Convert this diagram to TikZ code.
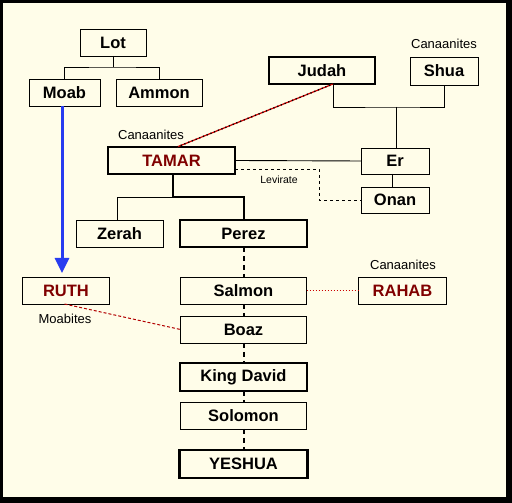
\documentclass[tikz,border=0pt]{standalone}
\usepackage{fontspec}
\setmainfont{Liberation Sans}
\usetikzlibrary{positioning,arrows.meta}
\definecolor{paper}{RGB}{255,253,233}
\definecolor{maroon}{RGB}{128,0,0}
\definecolor{arrowblue}{RGB}{40,60,240}

\begin{document}
\begin{tikzpicture}[x=1pt, y=1pt, node distance=12pt,
    person/.style={rectangle, draw, line width=0.9pt, fill=paper, font=\bfseries\fontsize{16.5}{18}\selectfont, minimum height=27pt, inner sep=0pt, outer sep=0pt},
    heir/.style={person, line width=2.4pt},
    foreign/.style={text=maroon},
    note/.style={font=\fontsize{13}{14}\selectfont, inner sep=0pt},
    tree/.style={line width=0.9pt},
    lineage/.style={line width=2pt, dash pattern=on 5pt off 4pt},
    union/.style={draw=red!80!black, line width=1.2pt, postaction={draw=black, line width=1.4pt, dash pattern=on 1.2pt off 2.8pt}}]

    % frame
    \fill[black] (0,0) rectangle (512,503);
    \fill[paper] (3,6) rectangle (506,500);

    \node[person, minimum width=66pt] (lot) at (113,460.5) {Lot};
    \node[person, minimum width=71pt] (moab) at (64.5,410.5) {Moab};
    \node[person, minimum width=86pt] (ammon) at (159,410.5) {Ammon};
    \node[heir, minimum width=106pt] (judah) at (322,432.5) {Judah};
    \node[person, minimum width=68pt, minimum height=28pt] (shua) at (444,432) {Shua};
    \node[heir, foreign, minimum width=127pt] (tamar) at (171.5,342.5) {TAMAR};
    \node[person, minimum width=68pt, minimum height=26pt] (er) at (395,342) {Er};
    \node[person, minimum width=68pt, minimum height=26pt, below=13pt of er] (onan) {Onan};
    \node[heir, minimum width=127pt] (perez) at (243.5,269.5) {Perez};
    \node[person, minimum width=87pt, left=17pt of perez] (zerah) {Zerah};
    \node[person, minimum width=126pt, below=30pt of perez] (salmon) {Salmon};
    \node[person, foreign, minimum width=88pt, right=52pt of salmon] (rahab) {RAHAB};
    \node[person, foreign, minimum width=87pt, left=71pt of salmon] (ruth) {RUTH};
    \node[person, minimum width=126pt, below=12pt of salmon] (boaz) {Boaz};
    \node[heir, minimum width=127pt, minimum height=28pt, below=20pt of boaz] (david) {King David};
    \node[person, minimum width=126pt, below=11pt of david] (solomon) {Solomon};
    \node[heir, minimum width=128pt, minimum height=28pt, below=21pt of solomon] (yeshua) {YESHUA};

    % labels
    \node[note] (canaanT) at (151,368) {Canaanites};
    \node[note] (canaanS) at (444,459) {Canaanites};
    \node[note] (canaanR) at (403,238) {Canaanites};
    \node[note] (moabites) at (65,184) {Moabites};
    \node[note, font=\fontsize{10.5}{12}\selectfont] (levirate) at (279,323) {Levirate};

    % Lot
    \draw[tree] (lot.south) -- ++(0,-11) coordinate (lotj);
    \draw[tree] (moab.north) |- (lotj) -| (ammon.north);

    % Judah and Shua
    \coordinate (jsj) at (396,396);
    \draw[tree] ([xshift=11pt]judah.south) |- (jsj) -| (shua.south);
    \draw[tree] (jsj) -- (jsj |- er.north);
    \draw[union] ([xshift=5.5pt]tamar.north) -- ([xshift=11pt]judah.south);
    \draw[tree] (tamar.east) -- (er.west);
    \draw[tree, dashed] ([yshift=-8.5pt]tamar.east) -- ++(84,0) |- (onan.west);
    \draw[tree] ([xshift=-3pt]er.south) -- ([xshift=-3pt]onan.north);

    % Tamar's sons
    \coordinate (tamj) at (173,306);
    \draw[line width=2pt] (tamar.south -| tamj) -- (tamj) -| (perez.north);
    \draw[tree] (tamj) -| ([xshift=-2.5pt]zerah.north);

    % line to Yeshua
    \foreach \a/\b in {perez/salmon, salmon/boaz, boaz/david, david/solomon, solomon/yeshua}
        \draw[lineage] (\a.south) -- (\b.north);

    \draw[red!80!black, line width=1pt, dotted] (salmon.east) -- (rahab.west);
    \draw[red!70!black, line width=1pt, dash pattern=on 3pt off 2pt] ([xshift=-1.5pt]ruth.south) -- (boaz.west);
    \draw[draw=arrowblue, line width=3pt, -{Triangle[width=14pt,length=15pt]}, shorten >=4pt] ([xshift=-2.5pt]moab.south) -- ([xshift=-2.5pt]moab.south |- ruth.north);
\end{tikzpicture}
\end{document}
